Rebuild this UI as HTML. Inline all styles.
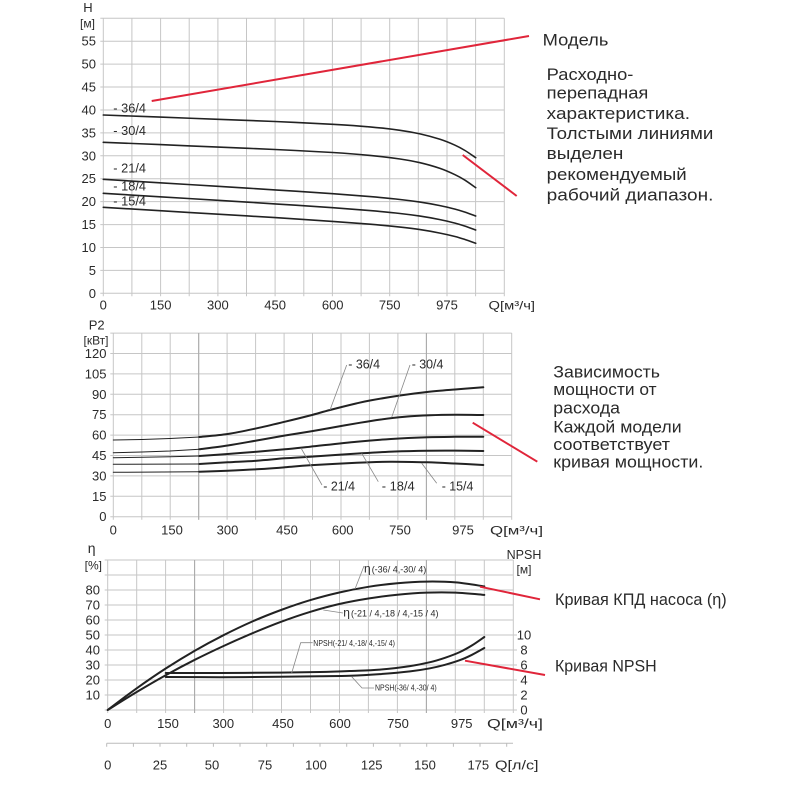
<!DOCTYPE html>
<html><head><meta charset="utf-8"><style>
html,body{margin:0;padding:0;background:#fff;}
svg{display:block;}
text{font-family:"Liberation Sans",Arial,sans-serif;fill:#2a2a2a;}
</style></head><body>
<svg id="c" width="800" height="800" viewBox="0 0 800 800" xmlns="http://www.w3.org/2000/svg">
<rect width="800" height="800" fill="#fff"/>

<!-- ===== TOP CHART ===== -->
<g stroke="#c6c6c6" stroke-width="1" fill="none">
<path d="M103.3 18.3V296.3M131.9 18.3V296.3M160.6 18.3V296.3M189.2 18.3V296.3M217.9 18.3V296.3M246.5 18.3V296.3M275.1 18.3V296.3M303.8 18.3V296.3M332.4 18.3V296.3M361.1 18.3V296.3M389.7 18.3V296.3M418.3 18.3V296.3M447 18.3V296.3M475.6 18.3V296.3M504.3 18.3V296.3"/>
<path d="M100.3 293.3H504.3M100.3 270.4H504.3M100.3 247.5H504.3M100.3 224.6H504.3M100.3 201.6H504.3M100.3 178.7H504.3M100.3 155.8H504.3M100.3 132.9H504.3M100.3 110H504.3M100.3 87H504.3M100.3 64.1H504.3M100.3 41.2H504.3M100.3 18.3H504.3"/>
</g>
<g font-size="13" text-anchor="end">
<text x="96" y="297.8">0</text><text x="96" y="274.9">5</text><text x="96" y="252">10</text><text x="96" y="229.1">15</text><text x="96" y="206.1">20</text><text x="96" y="183.2">25</text><text x="96" y="160.3">30</text><text x="96" y="137.4">35</text><text x="96" y="114.5">40</text><text x="96" y="91.5">45</text><text x="96" y="68.6">50</text><text x="96" y="45.7">55</text>
</g>
<text x="88" y="12" font-size="13" text-anchor="middle">H</text>
<text x="87.5" y="27.5" font-size="12" text-anchor="middle">[м]</text>
<g font-size="13" text-anchor="middle">
<text x="103.3" y="309.5">0</text><text x="160.6" y="309.5">150</text><text x="217.9" y="309.5">300</text><text x="275.1" y="309.5">450</text><text x="332.7" y="309.5">600</text><text x="389.7" y="309.5">750</text><text x="447" y="309.5">975</text>
</g>
<text x="488.5" y="309.5" font-size="12" textLength="46.5" lengthAdjust="spacingAndGlyphs">Q[м³/ч]</text>

<g fill="none" stroke="#222" stroke-width="1.6" stroke-linejoin="round" stroke-linecap="round">
<polyline class="s" points="103.3,115 160,117.1 218,119.3 275,121.5 332.7,124.3 370,126.9 400,130.3 420,133.9 440,139.3 455,145.2 465,150.5 475.7,157.7"/>
<polyline class="s" points="103.3,142.3 160,144.6 218,147.1 275,149.5 332.7,152.5 370,155.4 400,159 420,162.7 440,168.4 455,174.7 465,180.2 475.7,187.7"/>
<polyline class="s" points="103.3,179.3 160,182.8 218,186.3 275,189.9 332.7,193.7 370,196.6 400,199.5 420,202.1 440,205.6 455,209.1 465,212.1 475.7,216"/>
<polyline class="s" points="103.3,193.3 160,196.8 218,200.3 275,203.9 332.7,207.7 370,210.6 400,213.5 420,216.1 440,219.6 455,223.1 465,226.1 475.7,230"/>
<polyline class="s" points="103.3,207.3 160,210.7 218,214.2 275,217.6 332.7,221.4 370,224.2 400,227.1 420,229.6 440,233.1 455,236.5 465,239.5 475.7,243.3"/>
</g>
<g font-size="13">
<text x="113.3" y="112.3" textLength="32.7" lengthAdjust="spacingAndGlyphs">- 36/4</text>
<text x="113.3" y="135" textLength="32.7" lengthAdjust="spacingAndGlyphs">- 30/4</text>
<text x="113.3" y="172.3" textLength="32.7" lengthAdjust="spacingAndGlyphs">- 21/4</text>
<text x="113.3" y="190.7" textLength="32.7" lengthAdjust="spacingAndGlyphs">- 18/4</text>
<text x="113.3" y="205.7" textLength="32.7" lengthAdjust="spacingAndGlyphs">- 15/4</text>
</g>
<g stroke="#e0253a" stroke-width="2" fill="none">
<path d="M529 36L151.7 101"/>
<path d="M462.7 155L516.7 196"/>
</g>

<!-- ===== MIDDLE CHART ===== -->
<g stroke="#c6c6c6" stroke-width="1" fill="none">
<path d="M113.3 333V519.7M141.8 333V519.7M170.2 333V519.7M198.7 333V519.7M227.1 333V519.7M255.6 333V519.7M284.1 333V519.7M312.5 333V519.7M341 333V519.7M369.4 333V519.7M397.9 333V519.7M426.4 333V519.7M454.8 333V519.7M483.3 333V519.7M511.7 333V519.7"/>
<path d="M110.3 516.7H511.7M110.3 496.3H511.7M110.3 475.9H511.7M110.3 455.5H511.7M110.3 435.1H511.7M110.3 414.7H511.7M110.3 394.3H511.7M110.3 373.9H511.7M110.3 353.5H511.7M110.3 333.1H511.7"/>
</g>
<g stroke="#a8a8a8" stroke-width="1"><path d="M426.4 333V519.7M198.7 333V519.7"/></g>
<g font-size="13" text-anchor="end">
<text x="106.5" y="521.2">0</text><text x="106.5" y="500.8">15</text><text x="106.5" y="480.4">30</text><text x="106.5" y="460">45</text><text x="106.5" y="439.6">60</text><text x="106.5" y="419.2">75</text><text x="106.5" y="398.8">90</text><text x="106.5" y="378.4">105</text><text x="106.5" y="358">120</text>
</g>
<text x="96.7" y="329.5" font-size="13" text-anchor="middle">P2</text>
<text x="96" y="344.5" font-size="12" text-anchor="middle">[кВт]</text>
<g font-size="13" text-anchor="middle">
<text x="113.3" y="534.5">0</text><text x="172" y="534.5">150</text><text x="227.5" y="534.5">300</text><text x="287" y="534.5">450</text><text x="342.7" y="534.5">600</text><text x="400" y="534.5">750</text><text x="463" y="534.5">975</text>
</g>
<text x="490" y="534.5" font-size="12" textLength="53" lengthAdjust="spacingAndGlyphs">Q[м³/ч]</text>

<g fill="none" stroke="#222" stroke-linejoin="round" stroke-linecap="round">
<g stroke-width="1">
<polyline points="113.3,440 142,439.5 170,438.5 199.3,437"/>
<polyline points="113.3,452.7 142,452 170,451 199.3,449.3"/>
<polyline points="113.3,457.7 142,457.3 170,456.8 199.3,456"/>
<polyline points="113.3,464.3 199.3,464"/>
<polyline points="113.3,472.3 199.3,471.7"/>
</g>
<g stroke-width="2">
<polyline class="s" points="199.3,437 227.7,434 256.7,428.3 285,421.7 310,415.5 330,410 356,403.5 370,400.5 400,395.5 427,392 455,389.5 483.3,387.3"/>
<polyline class="s" points="199.3,449.3 227.7,445.5 256.7,440.5 285,435.5 310,431.5 330,428 356.7,423.3 380,419.6 405,416.8 430,415.3 455,414.8 483.3,415"/>
<polyline class="s" points="199.3,456 227.7,454 256.7,451.7 285,449.3 310,446.7 356.7,441.7 391,439 427.3,437.3 455,436.8 483.3,436.7"/>
<polyline class="s" points="199.3,464 227.7,462.3 256.7,460.7 285,458.3 310,456.7 361.7,453.3 395,451.5 427.3,450.7 455,450.6 483.3,451"/>
<polyline class="s" points="199.3,471.7 227.7,470.7 256.7,469.3 285,467.3 310,465.3 356.7,462.7 390,461.7 427.3,462.3 455,463.5 483.3,465"/>
</g>
</g>
<g stroke="#888" stroke-width="0.8" fill="none">
<path d="M346.7 365L330 410M410 365L391.7 417.3M322 485L301 448M378.3 481.7L361.7 453.3M436.7 483.3L421.7 463.3"/>
</g>
<g font-size="13">
<text x="348.3" y="368.3" textLength="31.7" lengthAdjust="spacingAndGlyphs">- 36/4</text>
<text x="411.7" y="368.3" textLength="31.7" lengthAdjust="spacingAndGlyphs">- 30/4</text>
<text x="323.3" y="490.7" textLength="31.7" lengthAdjust="spacingAndGlyphs">- 21/4</text>
<text x="381.7" y="490.7" textLength="33" lengthAdjust="spacingAndGlyphs">- 18/4</text>
<text x="441.7" y="490.7" textLength="31.7" lengthAdjust="spacingAndGlyphs">- 15/4</text>
</g>
<path d="M472.7 422.7L537.3 461.7" stroke="#e0253a" stroke-width="2"/>

<!-- ===== BOTTOM CHART ===== -->
<g stroke="#c6c6c6" stroke-width="1" fill="none">
<path d="M107.7 560V713M136.7 560V713M165.6 560V713M194.6 560V713M223.6 560V713M252.6 560V713M281.5 560V713M310.5 560V713M339.5 560V713M368.4 560V713M397.4 560V713M426.4 560V713M455.3 560V713M484.3 560V713M513.3 560V713"/>
<path d="M104.7 710H517M104.7 695H517M104.7 680H517M104.7 665H517M104.7 650H517M104.7 635H517M104.7 620H513.3M104.7 605H513.3M104.7 590H513.3M104.7 575H513.3M104.7 560H513.3"/>
</g>
<g stroke="#a8a8a8" stroke-width="1"><path d="M194.6 560V713M426.4 560V713"/></g>
<g font-size="13" text-anchor="end">
<text x="100" y="699.5">10</text><text x="100" y="684.5">20</text><text x="100" y="669.5">30</text><text x="100" y="654.5">40</text><text x="100" y="639.5">50</text><text x="100" y="624.5">60</text><text x="100" y="609.5">70</text><text x="100" y="594.5">80</text>
</g>
<g font-size="13" text-anchor="middle">
<text x="524" y="714.5">0</text><text x="524" y="699.5">2</text><text x="524" y="684.5">4</text><text x="524" y="669.5">6</text><text x="524" y="654.5">8</text><text x="524" y="639.5">10</text>
</g>
<text x="91.7" y="553" font-size="14" text-anchor="middle">η</text>
<text x="93.3" y="569.5" font-size="12" text-anchor="middle">[%]</text>
<text x="524" y="559" font-size="12.5" text-anchor="middle">NPSH</text>
<text x="524" y="573.5" font-size="12" text-anchor="middle">[м]</text>
<g font-size="13" text-anchor="middle">
<text x="107.7" y="728">0</text><text x="168" y="728">150</text><text x="223.3" y="728">300</text><text x="283" y="728">450</text><text x="340" y="728">600</text><text x="398" y="728">750</text><text x="461.7" y="728">975</text>
</g>
<text x="487" y="728" font-size="12.5" textLength="56" lengthAdjust="spacingAndGlyphs">Q[м³/ч]</text>

<!-- l/s axis -->
<g stroke="#bbb" stroke-width="1" fill="none">
<path d="M106.7 743.3H513M106.7 743.3v3.5M133.4 743.3v3.5M160 743.3v3.5M186.7 743.3v3.5M213.4 743.3v3.5M240 743.3v3.5M266.7 743.3v3.5M293.4 743.3v3.5M320 743.3v3.5M346.7 743.3v3.5M373.4 743.3v3.5M400 743.3v3.5M426.7 743.3v3.5M453.4 743.3v3.5M480 743.3v3.5M506.7 743.3v3.5"/>
</g>
<g font-size="13" text-anchor="middle">
<text x="107.7" y="769.5">0</text><text x="160" y="769.5">25</text><text x="212" y="769.5">50</text><text x="265" y="769.5">75</text><text x="316" y="769.5">100</text><text x="371.7" y="769.5">125</text><text x="425" y="769.5">150</text><text x="478.3" y="769.5">175</text>
</g>
<text x="495" y="769.5" font-size="12.5" textLength="43.5" lengthAdjust="spacingAndGlyphs">Q[л/с]</text>

<g fill="none" stroke="#222" stroke-width="2" stroke-linejoin="round" stroke-linecap="round">
<polyline class="s" points="107.7,710 136.7,688.3 165.7,668.5 195,650.6 223.3,635.3 252.3,621.5 281,610 310,600.2 339.3,592.5 368.4,586.8 397.3,583.2 426.7,581.6 455.7,582.4 484.3,586.4"/>
<polyline class="s" points="107.7,710 136.7,692 165.7,675.2 195,659.7 223.3,646.1 252.3,633.3 281,621.8 310,611.9 339.3,604 368.4,598.5 397.3,594.7 426.7,592.6 455.7,592.6 484.3,594.9"/>
<polyline class="s" points="165.7,673 220,673 280,672.6 320,672 350,671 380,669.6 410,666.1 430,662.2 445,657.8 460,652 472,645.4 484.3,637"/>
<polyline class="s" points="165.7,677 220,677.2 280,676.8 320,676.3 350,675.8 380,674.1 410,671.4 430,668.3 445,664.8 460,660.1 472,654.8 484.3,648"/>
</g>
<g stroke="#888" stroke-width="0.8" fill="none">
<path d="M364 566L355 589M343 613L323.3 610M312.7 642.7L300.7 642.7L291.7 673M374 688L362 688L351.7 676.7"/>
</g>
<text x="364" y="572.7" font-size="12">η<tspan font-size="9" dx="1">(-36/ 4,-30/ 4)</tspan></text>
<text x="343.3" y="616.7" font-size="12">η<tspan font-size="9" dx="1">(-21 / 4,-18 / 4,-15 / 4)</tspan></text>
<text x="313.3" y="646" font-size="8.5" textLength="81.7" lengthAdjust="spacingAndGlyphs">NPSH(-21/ 4,-18/ 4,-15/ 4)</text>
<text x="375" y="690.7" font-size="8.5" textLength="61.7" lengthAdjust="spacingAndGlyphs">NPSH(-36/ 4,-30/ 4)</text>
<g stroke="#e0253a" stroke-width="2" fill="none">
<path d="M480 586.7L540 599.3"/>
<path d="M465 660.7L545 675"/>
</g>

<!-- ===== RIGHT TEXT ===== -->
<g font-size="16.5" style="fill:#1e1e1e">
<text x="542.7" y="45.7" textLength="65.7" lengthAdjust="spacingAndGlyphs">Модель</text>
<text x="546.7" y="80" textLength="86.7" lengthAdjust="spacingAndGlyphs">Расходно-</text>
<text x="546.7" y="98.5" textLength="101.7" lengthAdjust="spacingAndGlyphs">перепадная</text>
<text x="546.7" y="119" textLength="143.3" lengthAdjust="spacingAndGlyphs">характеристика.</text>
<text x="546.7" y="138.8" textLength="166.7" lengthAdjust="spacingAndGlyphs">Толстыми линиями</text>
<text x="546.7" y="159" textLength="76.7" lengthAdjust="spacingAndGlyphs">выделен</text>
<text x="546.7" y="179.8" textLength="140" lengthAdjust="spacingAndGlyphs">рекомендуемый</text>
<text x="546.7" y="200.5" textLength="166.7" lengthAdjust="spacingAndGlyphs">рабочий диапазон.</text>

<text x="553.3" y="377.3" textLength="106.7" lengthAdjust="spacingAndGlyphs">Зависимость</text>
<text x="553.3" y="395" textLength="103.3" lengthAdjust="spacingAndGlyphs">мощности от</text>
<text x="553.3" y="413.3" textLength="66.7" lengthAdjust="spacingAndGlyphs">расхода</text>
<text x="553.3" y="432.3" textLength="128.3" lengthAdjust="spacingAndGlyphs">Каждой модели</text>
<text x="553.3" y="450" textLength="116.7" lengthAdjust="spacingAndGlyphs">соответствует</text>
<text x="553.3" y="467.3" textLength="150" lengthAdjust="spacingAndGlyphs">кривая мощности.</text>

<text x="555" y="605" textLength="171.7" lengthAdjust="spacingAndGlyphs">Кривая КПД насоса (η)</text>
<text x="555" y="671.7" textLength="101.7" lengthAdjust="spacingAndGlyphs">Кривая NPSH</text>
</g>
</svg>
<script>
(function(){
  var NS="http://www.w3.org/2000/svg";
  var pls=document.querySelectorAll("polyline.s");
  for(var i=0;i<pls.length;i++){
    var pl=pls[i];
    var raw=pl.getAttribute("points").trim().split(/\s+/);
    var p=raw.map(function(s){var a=s.split(",");return [parseFloat(a[0]),parseFloat(a[1])];});
    var d="M"+p[0][0]+" "+p[0][1];
    for(var k=0;k<p.length-1;k++){
      var p0=p[k>0?k-1:0],p1=p[k],p2=p[k+1],p3=p[k+2<p.length?k+2:p.length-1];
      var c1x=p1[0]+(p2[0]-p0[0])/6,c1y=p1[1]+(p2[1]-p0[1])/6;
      var c2x=p2[0]-(p3[0]-p1[0])/6,c2y=p2[1]-(p3[1]-p1[1])/6;
      d+="C"+c1x.toFixed(2)+" "+c1y.toFixed(2)+" "+c2x.toFixed(2)+" "+c2y.toFixed(2)+" "+p2[0]+" "+p2[1];
    }
    var path=document.createElementNS(NS,"path");
    path.setAttribute("d",d);
    pl.parentNode.replaceChild(path,pl);
  }
})();
</script>
</body></html>
